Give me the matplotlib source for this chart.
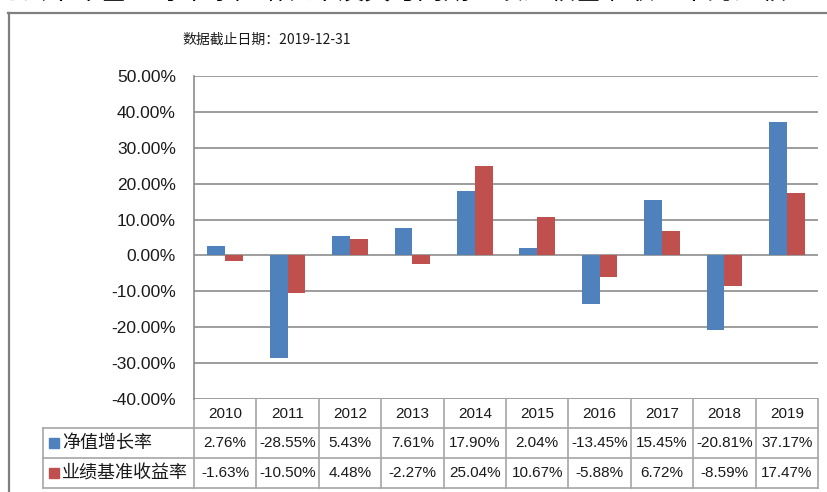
import matplotlib.pyplot as plt
from matplotlib.lines import Line2D
import matplotlib.transforms as mtransforms

years = ['2010', '2011', '2012', '2013', '2014', '2015', '2016', '2017', '2018', '2019']
nav_growth = [2.76, -28.55, 5.43, 7.61, 17.90, 2.04, -13.45, 15.45, -20.81, 37.17]
benchmark = [-1.63, -10.50, 4.48, -2.27, 25.04, 10.67, -5.88, 6.72, -8.59, 17.47]
series_names = ['净值增长率', '业绩基准收益率']
subtitle = '数据截止日期：2019-12-31'
title = '过去十年基金每年净值增长率及其与同期业绩比较基准收益率的比较'

blue = '#4F81BD'
red = '#C0504D'
grid_c = '#8c8c8c'
table_c = '#a6a6a6'
num_font = ['Liberation Sans', 'Noto Sans CJK SC']
cjk_font = ['Noto Sans CJK SC', 'DejaVu Sans']

W, H = 828, 492
fig = plt.figure(figsize=(W / 100, H / 100), dpi=100)

# plot area in pixels: x 194..818, y 76..399
ax = fig.add_axes([194 / W, 1 - 399 / H, (818 - 194) / W, (399 - 76) / H])
n = len(years)
bw = 1 / 3.5
xs = [i + 0.5 for i in range(n)]
ax.bar([x - bw / 2 for x in xs], nav_growth, width=bw, color=blue, zorder=3)
ax.bar([x + bw / 2 for x in xs], benchmark, width=bw, color=red, zorder=3)

ax.set_xlim(0, n)
ax.set_ylim(-40, 50)
ticks = list(range(-40, 51, 10))
ax.set_yticks(ticks)
ax.set_yticklabels([f'{t:.2f}%' for t in ticks], fontsize=12.5, family=num_font, color='#1a1a1a')
ax.tick_params(axis='y', length=0, pad=13)
ax.set_xticks([])
for t in ticks:
    ax.axhline(t, color=grid_c, lw=1.2, zorder=1)
for s in ['top', 'right', 'bottom']:
    ax.spines[s].set_visible(False)
ax.spines['left'].set_color(grid_c)
ax.spines['left'].set_linewidth(1.2)

# data table under the axis
tr = mtransforms.blended_transform_factory(ax.transData, ax.transAxes)
hpx = 399 - 76
rows = [0, -29 / hpx, -59 / hpx, -89 / hpx]
left_x = (43 - 194) / 62.4
for i in range(n + 1):
    ax.add_line(Line2D([i, i], [rows[0], rows[3]], transform=tr, color=table_c, lw=1.2, clip_on=False))
ax.add_line(Line2D([left_x, left_x], [rows[1], rows[3]], transform=tr, color=table_c, lw=1.2, clip_on=False))
for r in rows[1:]:
    ax.add_line(Line2D([left_x, n], [r, r], transform=tr, color=table_c, lw=1.2, clip_on=False))

ymid = [(rows[k] + rows[k + 1]) / 2 for k in range(3)]
for i, x in enumerate(xs):
    ax.text(x, ymid[0], years[i], transform=tr, ha='center', va='center', fontsize=11, family=num_font, color='#1a1a1a')
    ax.text(x, ymid[1], f'{nav_growth[i]:.2f}%', transform=tr, ha='center', va='center', fontsize=11, family=num_font, color='#1a1a1a')
    ax.text(x, ymid[2], f'{benchmark[i]:.2f}%', transform=tr, ha='center', va='center', fontsize=11, family=num_font, color='#1a1a1a')

sq_x = (54 - 194) / 62.4
txt_x = (62 - 194) / 62.4
for k, (name, c) in enumerate(zip(series_names, [blue, red])):
    ax.plot([sq_x], [ymid[k + 1]], marker='s', ms=6.5, color=c, transform=tr, clip_on=False)
    ax.text(txt_x, ymid[k + 1], name, transform=tr, ha='left', va='center', fontsize=13, family=cjk_font, color='#1a1a1a')

# chart border and texts
fig.add_artist(Line2D([8.5 / W, 8.5 / W], [0, 1 - 13 / H], transform=fig.transFigure, color='#7f7f7f', lw=1.6))
fig.add_artist(Line2D([8 / W, 1], [1 - 13 / H, 1 - 13 / H], transform=fig.transFigure, color='#7f7f7f', lw=1.6))
fig.text(267 / W, 1 - 40 / H, subtitle, ha='center', va='center', fontsize=10, family=cjk_font, color='#1a1a1a')
fig.text(-4 / W, 1 - 6 / H, title, ha='left', va='bottom', fontsize=19, family=cjk_font, color='black')

fig.savefig('out.png', dpi=100)
